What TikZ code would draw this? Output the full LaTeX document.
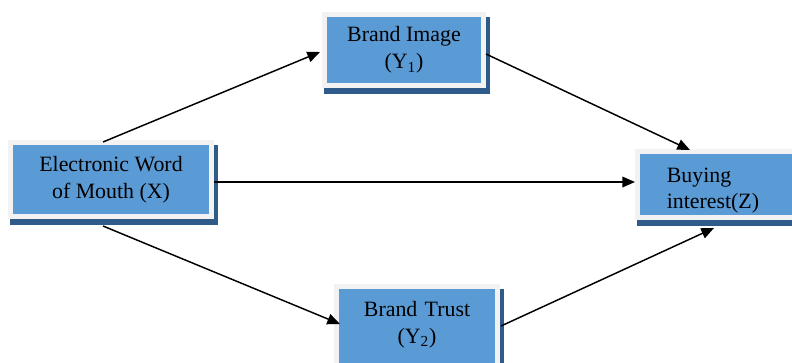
\documentclass[tikz,border=0pt]{standalone}
\usepackage{fontspec}
\setmainfont{Liberation Serif}
\usetikzlibrary{arrows.meta,backgrounds}
\definecolor{boxblue}{HTML}{5B9BD5}
\definecolor{boxgray}{HTML}{F2F2F2}
\definecolor{shadowblue}{HTML}{2F5B8B}
\tikzset{
  box/.style={fill=boxblue, draw=boxgray, line width=3.75pt, inner sep=0pt,
    align=center, font=\fontsize{16.4}{20}\selectfont},
  conn/.style={line width=1.1pt, -{Triangle[length=9.5pt,width=8pt]}},
  shadowfill/.style={fill=shadowblue},
}
\begin{document}
\begin{tikzpicture}[x=0.75pt,y=-0.75pt]
\useasboundingbox (0,0) rectangle (792,362);
% boxes
\node[box, minimum width=150.75pt, minimum height=55.5pt] (X) at (111,179.5)
  {Electronic Word\\of Mouth (X)};
\node[box, minimum width=119.25pt, minimum height=53.25pt] (Y1) at (404,50)
  {Brand Image\\(Y\textsubscript{1})};
\node[box, anchor=north west, align=left, text width=130pt, inner xsep=22pt,
  inner ysep=0pt, text height=22.9pt, text depth=26.6pt] (Z) at (635,149)
  {Buying\\interest(Z)};
\node[box, anchor=north, align=center, text width=120.75pt, inner xsep=0pt,
  inner ysep=0pt, text height=22.6pt, text depth=43.7pt] (Y2) at (417,284)
  {Brand Trust\\(Y\textsubscript{2})};
% shadows
\begin{scope}[on background layer]
  \foreach \n in {X,Y1,Z,Y2}{
    \fill[shadowfill] ([shift={(2,5)}]\n.north west) rectangle ([shift={(4,6)}]\n.south east);
  }
\end{scope}
% connectors
\draw[conn] ([shift={(-8,2)}]X.north) -- ([shift={(-2,2)}]Y1.west);
\draw[conn] ([shift={(0,4)}]Y1.east) -- ([shift={(55,1)}]Z.north west);
\draw[conn] ([shift={(0,2.5)}]X.east) -- ([shift={(0,-2.5)}]Z.west);
\draw[conn] ([shift={(-8,7)}]X.south) -- ([shift={(6,40)}]Y2.north west);
\draw[conn] ([shift={(1,42)}]Y2.north east) -- ([shift={(79,8)}]Z.south west);
\end{tikzpicture}
\end{document}
